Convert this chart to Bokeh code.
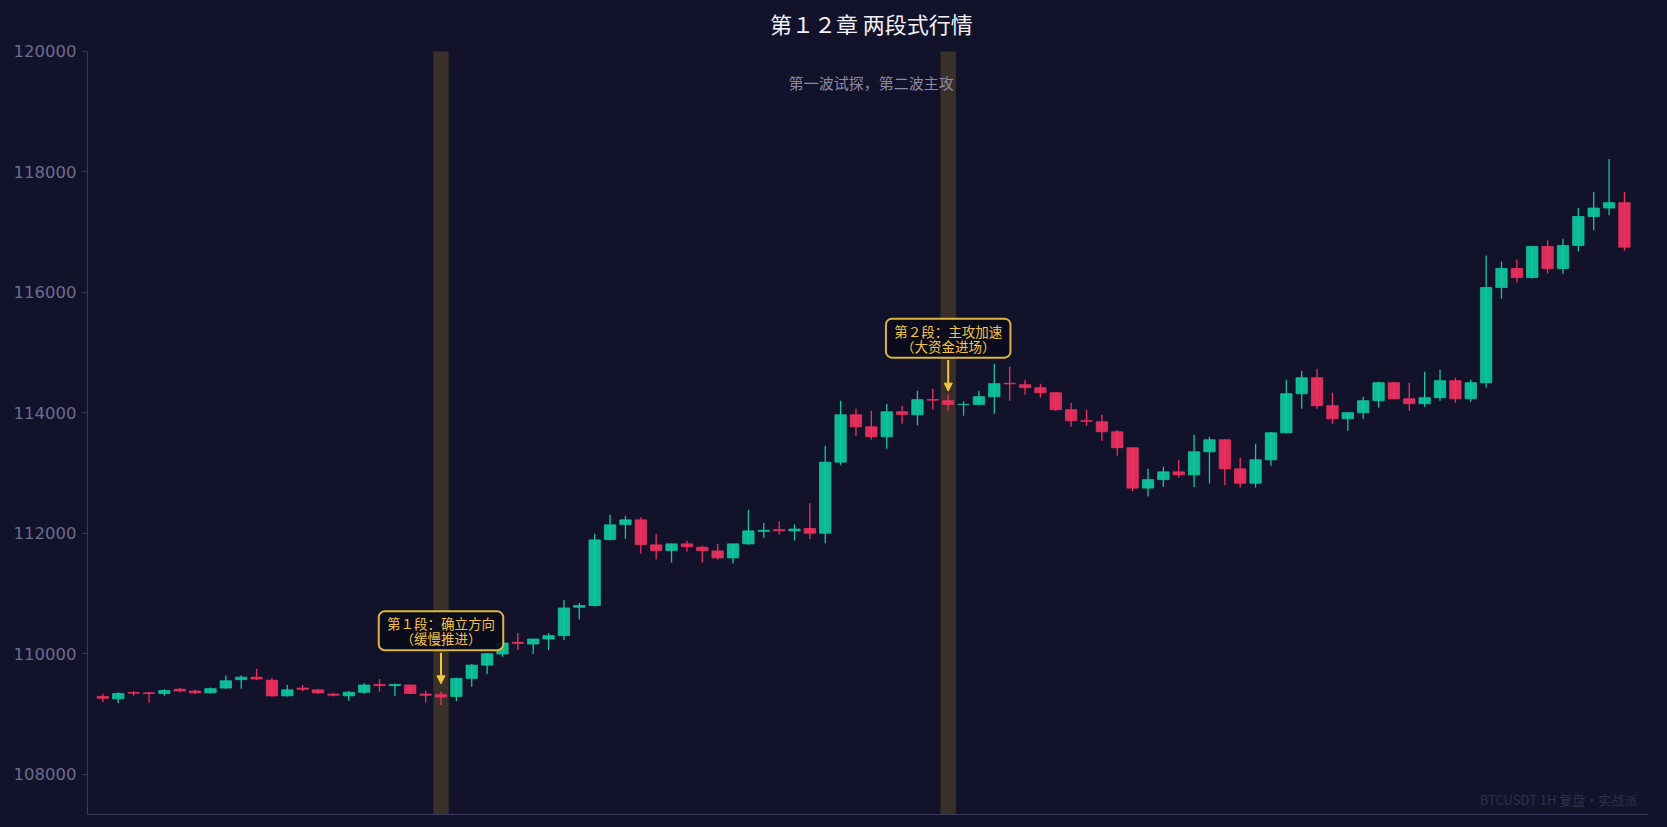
from bokeh.plotting import figure
from bokeh.models import (ColumnDataSource, Label, Arrow, NormalHead, BoxAnnotation,
                          FixedTicker, BasicTickFormatter)
from bokeh.embed import file_html
from bokeh.resources import INLINE

# ---------------- data ----------------
title_text = "第１２章 两段式行情"
subtitle_text = "第一波试探，第二波主攻"
watermark_text = "BTCUSDT 1H  复盘·实战派"

opens = [109290, 109250, 109355, 109350, 109340, 109410, 109380, 109350, 109430, 109570,
         109610, 109560, 109300, 109430, 109400, 109330, 109300, 109360, 109490, 109470,
         109480, 109330, 109320, 109290, 109590, 109810, 109995, 110190, 110161, 110244,
         110300, 110771, 110800, 111896, 112145, 112223, 111807, 111713, 111824, 111768,
         111707, 111591, 111824, 112031, 112060, 112040, 112080, 112000, 113181, 113968,
         113769, 113603, 114018, 113968, 114220, 114201, 114140, 114140, 114268, 114490,
         114467, 114417, 114334, 114052, 113870, 113852, 113686, 113420, 112750, 112890,
         113020, 112970, 113353, 113553, 113070, 112830, 113220, 113669, 114317, 114583,
         114118, 113902, 114002, 114201, 114500, 114234, 114151, 114251, 114534, 114234,
         114500, 116080, 116396, 116246, 116761, 116396, 116780, 117260, 117400, 117490]
highs = [109330, 109360, 109380, 109370, 109410, 109430, 109400, 109440, 109640, 109640,
         109750, 109600, 109480, 109480, 109420, 109340, 109380, 109510, 109580, 109500,
         109490, 109390, 109370, 109600, 109830, 110010, 110190, 110344, 110250, 110344,
         110893, 110843, 111990, 112306, 112289, 112267, 111990, 111830, 111874, 111791,
         111824, 111830, 112389, 112173, 112200, 112150, 112500, 113453, 114201, 114068,
         114035, 114151, 114118, 114367, 114401, 114301, 114190, 114367, 114816, 114766,
         114550, 114484, 114340, 114168, 114052, 113968, 113720, 113430, 113070, 113104,
         113220, 113636, 113602, 113560, 113253, 113486, 113680, 114550, 114700, 114733,
         114334, 114010, 114267, 114517, 114517, 114500, 114683, 114716, 114583, 114550,
         116612, 116512, 116545, 116761, 116861, 116890, 117400, 117667, 118215, 117667]
lows = [109200, 109180, 109300, 109190, 109300, 109360, 109330, 109340, 109420, 109420,
        109560, 109280, 109290, 109380, 109330, 109290, 109220, 109330, 109370, 109300,
        109330, 109190, 109150, 109210, 109450, 109660, 109950, 110062, 109995, 110062,
        110228, 110566, 110782, 111880, 111907, 111663, 111563, 111514, 111696, 111514,
        111563, 111497, 111810, 111923, 111980, 111880, 111900, 111836, 113137, 113619,
        113553, 113403, 113819, 113791, 114052, 114035, 113951, 114124, 113985, 114201,
        114301, 114251, 114035, 113769, 113786, 113536, 113287, 112700, 112610, 112770,
        112920, 112770, 112825, 112800, 112760, 112760, 113120, 113660, 114068, 114068,
        113819, 113702, 113902, 114085, 114220, 114035, 114101, 114201, 114168, 114184,
        114417, 115897, 116163, 116230, 116312, 116310, 116677, 117030, 117280, 116695]
closes = [109260, 109340, 109345, 109340, 109390, 109380, 109350, 109420, 109550, 109610,
          109580, 109300, 109400, 109410, 109350, 109310, 109360, 109480, 109470, 109490,
          109340, 109310, 109280, 109590, 109810, 110000, 110178, 110170, 110244, 110300,
          110760, 110800, 111890, 112140, 112223, 111813, 111713, 111824, 111780, 111713,
          111591, 111824, 112040, 112050, 112040, 112070, 112000, 113180, 113968, 113769,
          113603, 114018, 113974, 114218, 114210, 114140, 114140, 114268, 114484, 114480,
          114417, 114334, 114052, 113869, 113860, 113686, 113420, 112750, 112890, 113020,
          112970, 113353, 113553, 113070, 112830, 113220, 113669, 114317, 114583, 114118,
          113902, 114002, 114201, 114500, 114234, 114151, 114251, 114534, 114234, 114500,
          116080, 116396, 116246, 116761, 116396, 116780, 117260, 117400, 117490, 116750]

y_ticks = [108000, 110000, 112000, 114000, 116000, 118000, 120000]

highlight_idx = [22, 55]
annotation_line1 = ["第１段：确立方向", "第２段：主攻加速"]
annotation_line2 = ["（缓慢推进）", "（大资金进场）"]

# ---------------- styling ----------------
BG = "#12122a"
UP = "#0ec9a0"
DOWN = "#f0315f"
GOLD = "#f2c53d"
AXIS = "#3a3a58"
TICKTXT = "#6c6c8e"
Y_BOT = 107330
Y_TOP = 120000
PX = 16.6       # data units per screen pixel on the y axis
HEADROOM = 51   # pixels above the axis top reserved for the title

idx = list(range(len(opens)))
colors = [UP if c >= o else DOWN for o, c in zip(opens, closes)]
body_top = [max(o, c) for o, c in zip(opens, closes)]
body_bot = [min(o, c) for o, c in zip(opens, closes)]

src = ColumnDataSource(dict(x=idx, o=opens, h=highs, l=lows, c=closes,
                            top=body_top, bot=body_bot, color=colors))

p = figure(width=1651, height=818, x_range=(-1.0, 100.5),
           y_range=(Y_BOT, Y_TOP + HEADROOM * PX),
           output_backend="svg", toolbar_location=None,
           background_fill_color=BG, border_fill_color=BG,
           outline_line_color=None, outline_line_alpha=0,
           min_border_left=87, min_border_right=4, min_border_top=0, min_border_bottom=4)
p.grid.visible = False

# title
p.add_layout(Label(x=50.0, y=Y_TOP + (HEADROOM - 22.5) * PX, text=title_text,
                   text_align="center", text_baseline="middle", text_color="#f2f2f8",
                   text_font_size="22px", text_font="Noto Sans CJK SC"))

# highlight bands
for i in highlight_idx:
    p.add_layout(BoxAnnotation(left=i - 0.5, right=i + 0.5, top=Y_TOP, fill_color="#d4a82a",
                               fill_alpha=0.2, line_color=None, level="underlay"))

# candles
p.segment(x0="x", y0="l", x1="x", y1="h", color="color", line_width=1.3, source=src)
p.vbar(x="x", width=0.74, top="top", bottom="bot", fill_color="color", fill_alpha=0.92,
       line_color="color", line_alpha=0.75, line_width=1, source=src)

# axes
yax = p.yaxis[0]
yax.ticker = FixedTicker(ticks=y_ticks)
yax.formatter = BasicTickFormatter(use_scientific=False)
yax.bounds = (Y_BOT, Y_TOP)
yax.axis_line_color = AXIS
yax.major_tick_line_color = AXIS
yax.minor_tick_line_color = None
yax.major_tick_out = 5
yax.major_tick_in = 0
yax.major_label_text_color = TICKTXT
yax.major_label_text_font = "DejaVu Sans"
yax.major_label_text_font_size = "16.5px"
yax.major_label_standoff = 6

xax = p.xaxis[0]
xax.ticker = FixedTicker(ticks=[])
xax.axis_line_color = AXIS
xax.major_tick_line_color = None
xax.minor_tick_line_color = None
xax.major_label_text_font_size = "0px"
xax.major_label_standoff = 0
xax.major_tick_out = 0

# subtitle
p.add_layout(Label(x=50.0, y=Y_TOP - 31 * PX, text=subtitle_text, text_align="center",
                   text_baseline="middle", text_color="#8a8aa8", text_font_size="15px",
                   text_font="Noto Sans CJK SC"))

# annotations
for i, t1, t2 in zip(highlight_idx, annotation_line1, annotation_line2):
    c = closes[i]
    cy = c + 1100
    p.add_layout(Arrow(end=NormalHead(size=8, fill_color=GOLD, line_color=GOLD),
                       x_start=i, y_start=c + 735, x_end=i, y_end=c + 220,
                       line_color=GOLD, line_width=2))
    p.add_layout(BoxAnnotation(left=i - 4.05, right=i + 4.05,
                               bottom=cy - 19.5 * PX, top=cy + 19.5 * PX,
                               fill_color="#0c0c1e", fill_alpha=0.95,
                               line_color="#dcb63a", line_alpha=1.0, line_width=2,
                               border_radius=6))
    for t, dy in ((t1, 7.5), (t2, -7.5)):
        p.add_layout(Label(x=i, y=cy + dy * PX, text=t, text_align="center",
                           text_baseline="middle", text_color=GOLD, text_font_size="13.5px",
                           text_font="Noto Sans CJK SC"))

# watermark
p.add_layout(Label(x=100.03, y=Y_BOT + 15 * PX, text=watermark_text, text_align="right",
                   text_baseline="middle", text_color="#30304b", text_font_size="13px",
                   text_font="Noto Sans CJK SC"))

html = file_html(p, INLINE)
html = html.replace("<head>", "<head><style>html,body{background:#12122a;}</style>", 1)
open("out.html", "w").write(html)
